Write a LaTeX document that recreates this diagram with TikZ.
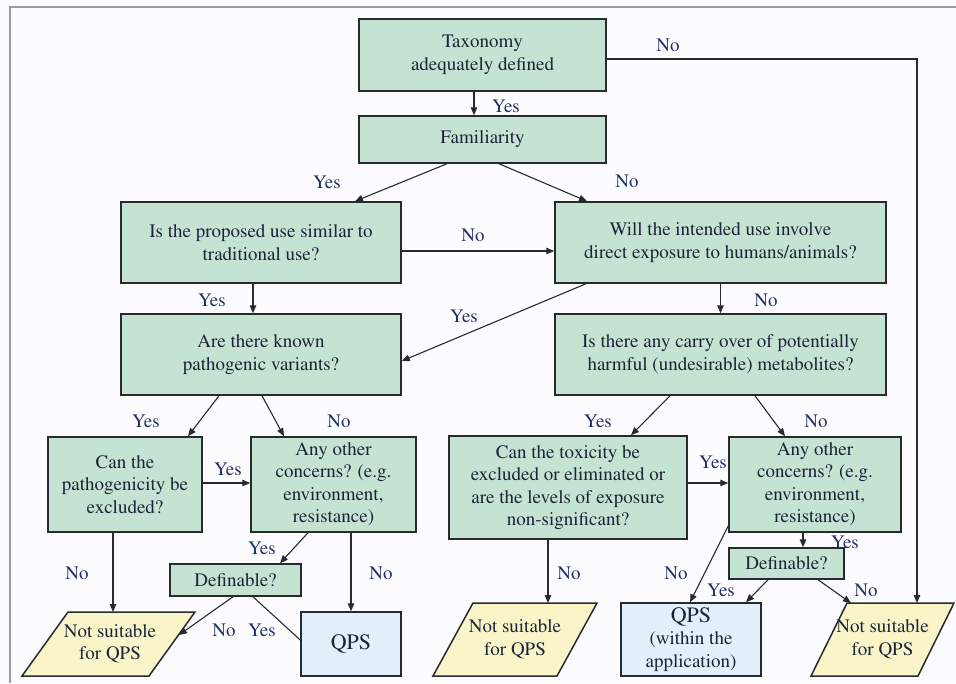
\documentclass[tikz,border=0pt]{standalone}
\usepackage[T1]{fontenc}
\usepackage{times}
\usetikzlibrary{arrows.meta,calc}
\definecolor{boxgreen}{RGB}{197,227,211}
\definecolor{boxyellow}{RGB}{250,245,200}
\definecolor{boxblue}{RGB}{225,240,250}
\definecolor{boxline}{RGB}{40,42,48}
\definecolor{boxtext}{RGB}{28,36,56}
\definecolor{labcol}{RGB}{30,45,105}
\definecolor{bgcol}{RGB}{252,252,254}
\definecolor{framecol}{RGB}{155,155,160}
\begin{document}
\begin{tikzpicture}[x=1pt,y=-1pt,
  box/.style={draw=boxline, line width=1.5pt, fill=boxgreen, inner sep=0pt,
    align=center, text=boxtext, font=\fontsize{19}{22.5}\selectfont},
  qpsbox/.style={box, fill=boxblue},
  nsshape/.style={draw=boxline, line width=1.5pt, fill=boxyellow},
  nstext/.style={inner sep=0pt, align=center, text=boxtext, font=\fontsize{19}{22.5}\selectfont},
  lab/.style={inner sep=0pt, text=labcol, font=\fontsize{19}{22.5}\selectfont},
  arr/.style={draw=boxline, line width=1.1pt, -{Triangle[length=8pt,width=6.5pt]}},
  plain/.style={draw=boxline, line width=1.1pt}
]
\useasboundingbox (0,0) rectangle (956,683);
\fill[bgcol] (0,0) rectangle (956,683);
\draw[framecol, line width=1.5pt] (10,683) -- (10,7) -- (956,7);

% labels
\node[lab] (l1) at (506,106) {Yes};
\node[lab] (l2) at (668,45) {No};
\node[lab] (l3) at (327,182) {Yes};
\node[lab] (l4) at (627,181) {No};
\node[lab] (l5) at (473,235) {No};
\node[lab] (l6) at (212,300) {Yes};
\node[lab] (l7) at (464,316) {Yes};
\node[lab] (l8) at (766,300) {No};
\node[lab] (l9) at (146,421) {Yes};
\node[lab] (l10) at (339,421) {No};
\node[lab] (l11) at (598,421) {Yes};
\node[lab] (l12) at (816,421) {No};
\node[lab] (l13) at (228,469) {Yes};
\node[lab] (l14) at (77,573) {No};
\node[lab] (l15) at (262,548) {Yes};
\node[lab] (l16) at (381,573) {No};
\node[lab] (l17) at (224,630) {No};
\node[lab] (l18) at (262,630) {Yes};
\node[lab] (l19) at (713,462) {Yes};
\node[lab] (l20) at (569,573) {No};
\node[lab] (l21) at (676,573) {No};
\node[lab] (l22) at (845,542) {Yes};
\node[lab] (l23) at (721,590) {Yes};
\node[lab] (l24) at (866,590) {No};

% boxes
\node[box, minimum width=247, minimum height=72] (tax) at (482.5,55) {Taxonomy\\adequately defined};
\node[box, minimum width=247, minimum height=47] (fam) at (482.5,139.5) {Familiarity};
\node[box, minimum width=280, minimum height=81] (prop) at (261,242.5) {Is the proposed use similar to\\traditional use?};
\node[box, minimum width=331, minimum height=81] (will) at (720.5,242.5) {Will the intended use involve\\direct exposure to humans/animals?};
\node[box, minimum width=280, minimum height=81] (are) at (261,354.5) {Are there known\\pathogenic variants?};
\node[box, minimum width=331, minimum height=81] (carry) at (720.5,354.5) {Is there any carry over of potentially\\harmful (undesirable) metabolites?};
\node[box, minimum width=154, minimum height=95] (canp) at (125,484.5) {Can the\\pathogenicity be\\excluded?};
\node[box, minimum width=165, minimum height=95] (anyL) at (333.5,484.5) {Any other\\concerns? (e.g.\\environment,\\resistance)};
\node[box, minimum width=131, minimum height=32] (defL) at (235.5,580) {Definable?};
\node[qpsbox, minimum width=100, minimum height=64, font=\fontsize{22}{24}\selectfont] (qpsL) at (351,644) {QPS};
\node[box, minimum width=238, minimum height=103] (canT) at (568,487.5) {Can the toxicity be\\excluded or eliminated or\\are the levels of exposure\\non-significant?};
\node[box, minimum width=172, minimum height=95] (anyR) at (815,484.5) {Any other\\concerns? (e.g.\\environment,\\resistance)};
\node[box, minimum width=115, minimum height=31] (defR) at (786.5,563.5) {Definable?};
\node[qpsbox, minimum width=140, minimum height=73] (qpsR) at (691,639.5) {{\fontsize{22}{23}\selectfont QPS}\\(within the\\application)};

% parallelograms
\draw[nsshape] (68,612) -- (195,612) -- (149,676) -- (22,676) -- cycle;
\node[nstext] (nsL) at (110,644) {Not suitable\\for QPS};
\draw[nsshape] (473,603) -- (597,603) -- (557,676) -- (433,676) -- cycle;
\node[nstext] (nsM) at (515,639.5) {Not suitable\\for QPS};
\draw[nsshape] (847,603) -- (954,603) -- (918,676) -- (811,676) -- cycle;
\node[nstext] (nsR) at (882.5,639.5) {Not suitable\\for QPS};

\coordinate (nsLa) at (113,612);
\coordinate (nsLb) at (179,635);
\coordinate (nsMa) at (548,603);
\coordinate (nsRa) at (917,603);
\coordinate (nsRb) at (851,603);

% connectors
\draw[arr] ([xshift=-8.5pt]tax.south) -- ([xshift=-8.5pt]fam.north);
\draw[arr] ([yshift=-4pt]tax.east) -| (nsRa);
\draw[arr] ([xshift=-35.5pt]fam.south) -- ([xshift=94pt]prop.north);
\draw[arr] ([xshift=16.5pt]fam.south) -- ([xshift=-133.5pt]will.north);
\draw[arr] ([yshift=-8.5pt]prop.east) -- ([yshift=-8.5pt]will.west);
\draw[arr] ([xshift=-8pt]prop.south) -- ([xshift=-8pt]are.north);
\draw[arr] ([xshift=-134.5pt]will.south) -- ([yshift=-6.5pt]are.east);
\draw[arr] (will.south) -- (carry.north);
\draw[arr] ([xshift=-42pt]are.south) -- ([xshift=63pt]canp.north);
\draw[arr] ([xshift=1pt]are.south) -- ([xshift=-49.5pt]anyL.north);
\draw[arr] ([xshift=-50.5pt]carry.south) -- ([xshift=63pt]canT.north);
\draw[arr] ([xshift=34.5pt]carry.south) -- ([xshift=-30pt]anyR.north);
\draw[arr] ([yshift=1.5pt]canp.east) -- ([yshift=1.5pt]anyL.west);
\draw[arr] ([xshift=-12pt]canp.south) -- (nsLa);
\draw[arr] ([xshift=-25.5pt]anyL.south) -- ([xshift=44.5pt]defL.north);
\draw[arr] ([xshift=17.5pt]anyL.south) -- (qpsL.north);
\draw[arr] ([xshift=-2.5pt]defL.south) -- (nsLb);
\draw[plain] ([xshift=17.5pt]defL.south) -- ([yshift=4pt]qpsL.west);
\draw[arr] ([yshift=4.5pt]canT.east) -- ([yshift=1.5pt]anyR.west);
\draw[arr] ([xshift=-20pt]canT.south) -- (nsMa);
\draw[arr] ([yshift=7pt]anyR.south west) -- ([xshift=-1pt]qpsR.north);
\draw[arr] ([xshift=-12pt]anyR.south) -- ([xshift=16.5pt]defR.north);
\draw[arr] ([xshift=-18.5pt]defR.south) -- ([xshift=55pt]qpsR.north);
\draw[arr] ([xshift=31.5pt]defR.south) -- (nsRb);
\end{tikzpicture}
\end{document}
